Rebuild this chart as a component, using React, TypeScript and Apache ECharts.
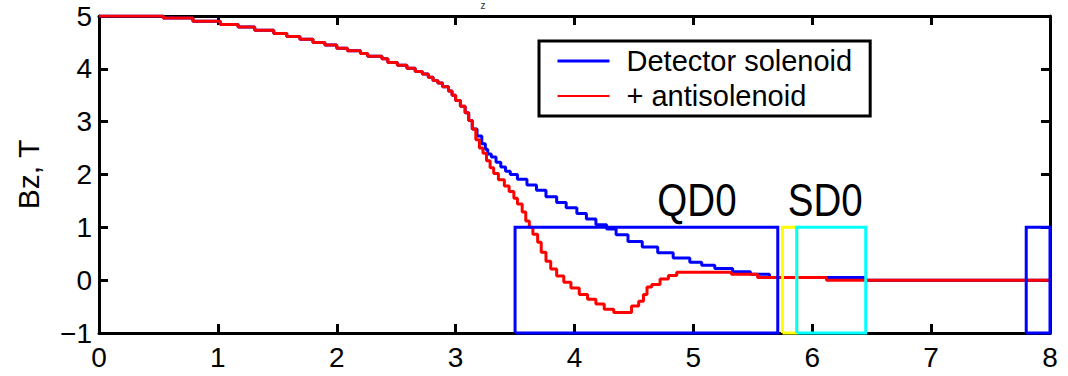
import React, { useEffect, useRef } from "react";
import * as echarts from "echarts";

// Longitudinal position z (m) where each step of Bz starts, and Bz (T)
const sharedCurve: [number, number][] = [
  [0, 5.0], [0.54, 4.96], [0.79, 4.9], [1.02, 4.84], [1.17, 4.79], [1.31, 4.73],
  [1.47, 4.67], [1.58, 4.61], [1.69, 4.56], [1.8, 4.5], [1.9, 4.45], [2.0, 4.39],
  [2.09, 4.34], [2.2, 4.29], [2.26, 4.24], [2.38, 4.19], [2.43, 4.12], [2.51, 4.07],
  [2.59, 4.01], [2.66, 3.95], [2.72, 3.9], [2.77, 3.84], [2.81, 3.78], [2.85, 3.73],
  [2.89, 3.66], [2.94, 3.58], [2.97, 3.5], [3.0, 3.4], [3.04, 3.29], [3.08, 3.17],
  [3.11, 3.02], [3.14, 2.86],
];

const detectorTail: [number, number][] = [
  [3.18, 2.73], [3.22, 2.58], [3.25, 2.48], [3.27, 2.39], [3.3, 2.33], [3.34, 2.23],
  [3.38, 2.14], [3.42, 2.06], [3.46, 2.0], [3.52, 1.91], [3.6, 1.8], [3.68, 1.7],
  [3.76, 1.58], [3.85, 1.47], [3.93, 1.37], [4.02, 1.26], [4.1, 1.16], [4.18, 1.05],
  [4.27, 0.97], [4.35, 0.86], [4.45, 0.73], [4.57, 0.63], [4.7, 0.52], [4.83, 0.42],
  [4.97, 0.34], [5.07, 0.28], [5.18, 0.22], [5.33, 0.16], [5.48, 0.11], [5.64, 0.05],
  [6.45, 0.0], [8.0, 0.0],
];

const antisolenoidTail: [number, number][] = [
  [3.17, 2.66], [3.2, 2.5], [3.23, 2.4], [3.26, 2.26], [3.29, 2.13], [3.32, 2.02],
  [3.36, 1.9], [3.41, 1.78], [3.45, 1.68], [3.49, 1.55], [3.52, 1.44], [3.56, 1.29],
  [3.59, 1.12], [3.62, 1.0], [3.65, 0.87], [3.69, 0.72], [3.72, 0.53], [3.76, 0.36],
  [3.8, 0.21], [3.85, 0.08], [3.91, -0.04], [3.97, -0.15], [4.04, -0.27], [4.11, -0.36],
  [4.18, -0.45], [4.25, -0.55], [4.33, -0.61], [4.48, -0.49], [4.54, -0.4], [4.58, -0.27],
  [4.61, -0.13], [4.65, -0.08], [4.72, 0.02], [4.79, 0.09], [4.86, 0.15], [5.32, 0.11],
  [5.54, 0.05], [6.12, 0.0], [8.0, 0.0],
];

// Magnet outlines (z extent, Bz extent)
const magnetNames = ["QD0", "gap", "SD0", "next"];
const magnetStart = [3.5, 5.75, 5.87, 7.8];
const magnetEnd = [5.71, 5.87, 6.45, 8.0];
const magnetLow = -1;
const magnetHigh = 1;
const magnetLabels = ["QD0", "SD0"];
const magnetLabelZ = [5.03, 6.11];
const magnetLabelBz = 1.53;

const seriesNames = ["Detector solenoid", "+ antisolenoid"];
const yTickLabels = ["\u22121", "0", "1", "2", "3", "4", "5"];
const yAxisName = "Bz, T";
const titleFragment = "z";

const magnetColors = ["#0000ff", "#ffff00", "#00ffff", "#0000ff"];
const FONT = "'Liberation Sans', Arial, Helvetica, sans-serif";

export default function App() {
  const ref = useRef<HTMLDivElement>(null);
  useEffect(() => {
    document.body.style.margin = "0";
    const chart = echarts.init(ref.current!, null, { renderer: "svg" });
    const axisLine = { show: true, onZero: false, lineStyle: { color: "#000", width: 3 } };
    const axisTick = { show: true, inside: true, length: 9, lineStyle: { color: "#000", width: 3 } };
    const xBase = {
      type: "value", min: 0, max: 8, interval: 1,
      axisLine, axisTick, splitLine: { show: false },
    };
    const yBase = {
      type: "value", min: -1, max: 5, interval: 1,
      axisLine, axisTick, splitLine: { show: false },
    };
    const magnetSeries = magnetNames.map((n, i) => ({
      name: n,
      type: "line",
      data: [
        [magnetStart[i], magnetLow], [magnetStart[i], magnetHigh],
        [magnetEnd[i], magnetHigh], [magnetEnd[i], magnetLow], [magnetStart[i], magnetLow],
      ],
      symbol: "none",
      clip: false,
      silent: true,
      z: 5,
      lineStyle: { color: magnetColors[i], width: 3, join: "miter" },
    }));
    chart.setOption({
      animation: false,
      textStyle: { fontFamily: FONT },
      grid: { left: 99, right: 18, top: 16, bottom: 43 },
      legend: {
        data: [
          { name: seriesNames[0], lineStyle: { width: 3 } },
          { name: seriesNames[1], lineStyle: { width: 2 } },
        ],
        orient: "vertical",
        left: 539,
        top: 41,
        padding: [5, 18, 5, 17],
        itemGap: 5,
        itemWidth: 52,
        itemHeight: 30,
        borderColor: "#000",
        borderWidth: 3,
        backgroundColor: "#fff",
        itemStyle: { opacity: 0 },
        textStyle: { fontSize: 29, color: "#000", fontFamily: FONT, lineHeight: 30, padding: [0, 0, 0, 12] },
      },
      xAxis: [
        { ...xBase, position: "bottom", axisLabel: { fontSize: 28, color: "#000", margin: 10, fontFamily: FONT } },
        { ...xBase, position: "top", axisLabel: { show: false } },
      ],
      yAxis: [
        {
          ...yBase, position: "left",
          name: yAxisName, nameLocation: "middle", nameRotate: 90, nameGap: 56,
          nameTextStyle: { fontSize: 30, color: "#000", fontFamily: FONT },
          axisLabel: {
            fontSize: 28, color: "#000", margin: 7, fontFamily: FONT,
            formatter: (v: number) => yTickLabels[Math.round(v) + 1],
          },
        },
        { ...yBase, position: "right", axisLabel: { show: false } },
      ],
      series: [
        {
          name: seriesNames[0], type: "line", step: "end", symbol: "none",
          data: [...sharedCurve, ...detectorTail], z: 3,
          lineStyle: { color: "#0000ff", width: 3 }, itemStyle: { color: "#0000ff" },
        },
        {
          name: seriesNames[1], type: "line", step: "end", symbol: "none",
          data: [...sharedCurve, ...antisolenoidTail], z: 4,
          lineStyle: { color: "#ff0000", width: 3 }, itemStyle: { color: "#ff0000" },
        },
        ...magnetSeries,
      ],
    });
    const labels = magnetLabels.map((t, i) => {
      const p = chart.convertToPixel({ xAxisIndex: 0, yAxisIndex: 0 }, [magnetLabelZ[i], magnetLabelBz]);
      return {
        type: "text", x: p[0], y: p[1], scaleX: 0.82, z: 10,
        style: { text: t, fontSize: 47, fontFamily: FONT, fill: "#000", align: "center", verticalAlign: "middle" },
      };
    });
    chart.setOption({
      graphic: [
        ...labels,
        {
          type: "text", x: 483, y: 0, z: 10,
          style: { text: titleFragment, fontSize: 10, fontFamily: FONT, fill: "#333", align: "center", verticalAlign: "top" },
        },
      ],
    });
    return () => chart.dispose();
  }, []);
  return <div ref={ref} style={{ width: 1068, height: 376 }} />;
}
